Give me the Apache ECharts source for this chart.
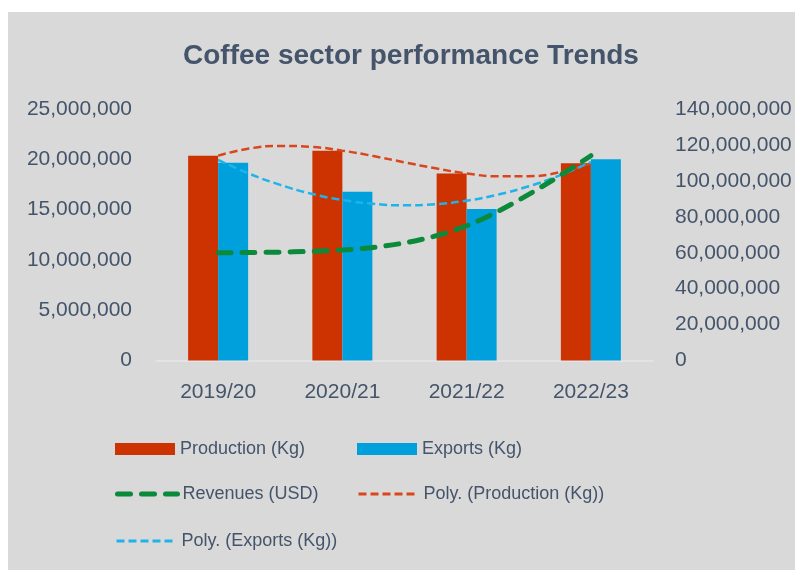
<!DOCTYPE html>
<html>
<head>
<meta charset="utf-8">
<script src="https://cdn.jsdelivr.net/npm/echarts@6/dist/echarts.min.js"></script>
<style>
  html, body { margin: 0; padding: 0; background: #ffffff; }
  #chart { width: 795px; height: 570px; }
</style>
</head>
<body>
<div id="chart"></div>
<script>
// ---- data ----
const categories = ['2019/20', '2020/21', '2021/22', '2022/23'];
const production = [20360000, 20860000, 18600000, 19600000];   // Kg (left axis)
const exportsKg  = [19660000, 16780000, 15060000, 20000000];   // Kg (left axis)
const revenues   = [60000000, 61500000, 75000000, 114000000];  // USD (right axis)

// trend lines at quarter-category positions
const trendX     = [1, 1.25, 1.5, 1.75, 2, 2.25, 2.5, 2.75, 3, 3.25, 3.5, 3.75, 4];
const prodTrend  = [20360000, 21070000, 21330000, 21230000, 20860000, 20320000, 19700000, 19100000, 18600000, 18310000, 18320000, 18720000, 19600000];
const expTrend   = [19940000, 18570000, 17460000, 16580000, 15960000, 15570000, 15430000, 15540000, 15890000, 16480000, 17320000, 18400000, 19730000];

const leftTicks  = { min: 0, max: 25000000, interval: 5000000 };
const rightTicks = { min: 0, max: 140000000, interval: 20000000 };

const TEXT = '#44546a';
const FONT = "'Liberation Sans', Arial, Helvetica, sans-serif";
const C_PROD = '#cc3300', C_EXP = '#00a0dc', C_REV = '#0b8a3b', C_PT = '#d9461c', C_ET = '#1eb3ea';

const fmt = v => Math.round(v).toString().replace(/\B(?=(\d{3})+(?!\d))/g, ',');
const pairs = (xs, ys) => xs.map((x, i) => [x, ys[i]]);

function legendAt(name, left, top, lineStyle) {
  const item = { name: name };
  if (lineStyle) {
    item.itemStyle = { opacity: 0 };
    item.lineStyle = lineStyle;
  } else {
    item.icon = 'rect';
  }
  return {
    data: [item], left: left, top: top, padding: 0,
    itemWidth: 60, itemHeight: 12, itemGap: 0,
    selectedMode: false,
    textStyle: { color: TEXT, fontSize: 18, fontFamily: FONT, padding: [0, 0, 0, 0] }
  };
}

const chart = echarts.init(document.getElementById('chart'), null, { renderer: 'canvas' });
chart.setOption({
  backgroundColor: '#ffffff',
  animation: false,
  graphic: [{
    type: 'rect', left: 8, top: 12, z: -10,
    shape: { x: 0, y: 0, width: 787, height: 558 },
    style: { fill: '#d9d9d9' }
  }],
  title: {
    text: 'Coffee sector performance Trends',
    left: 183, top: 42, padding: 0,
    textStyle: { color: TEXT, fontSize: 28, fontWeight: 'bold', fontFamily: FONT }
  },
  legend: [
    legendAt('Production (Kg)', 115, 440, null),
    legendAt('Exports (Kg)', 357, 440, null),
    legendAt('Revenues (USD)', 115, 485, { color: C_REV, width: 5, type: [13, 11], cap: 'round', opacity: 1 }),
    legendAt('Poly. (Production (Kg))', 357, 485, { color: C_PT, width: 3, type: [8, 4], opacity: 1 }),
    legendAt('Poly. (Exports (Kg))', 115, 532, { color: C_ET, width: 3, type: [8, 4], opacity: 1 })
  ],
  grid: { left: 156, right: 142, top: 109, bottom: 209.5, containLabel: false },
  xAxis: [{
    type: 'category', data: categories, boundaryGap: true,
    axisLine: { show: true, lineStyle: { color: '#e6e6ea', width: 1.5 } },
    axisTick: { show: false },
    axisLabel: { color: TEXT, fontSize: 21, fontFamily: FONT, margin: 21 },
    splitLine: { show: false }
  }, {
    type: 'value', min: 0.5, max: 4.5, show: false
  }],
  yAxis: [{
    type: 'value', position: 'left',
    min: leftTicks.min, max: leftTicks.max, interval: leftTicks.interval,
    axisLine: { show: false }, axisTick: { show: false }, splitLine: { show: false },
    axisLabel: { color: TEXT, fontSize: 21, fontFamily: FONT, margin: 24, formatter: fmt }
  }, {
    type: 'value', position: 'right',
    min: rightTicks.min, max: rightTicks.max, interval: rightTicks.interval,
    axisLine: { show: false }, axisTick: { show: false }, splitLine: { show: false },
    axisLabel: { color: TEXT, fontSize: 21, fontFamily: FONT, margin: 22, formatter: fmt }
  }],
  series: [{
    name: 'Production (Kg)', type: 'bar', data: production,
    xAxisIndex: 0, yAxisIndex: 0, barWidth: 30, barGap: '0%',
    itemStyle: { color: C_PROD }
  }, {
    name: 'Exports (Kg)', type: 'bar', data: exportsKg,
    xAxisIndex: 0, yAxisIndex: 0, barWidth: 30, barGap: '0%',
    itemStyle: { color: C_EXP }
  }, {
    name: 'Poly. (Production (Kg))', type: 'line', data: pairs(trendX, prodTrend),
    xAxisIndex: 1, yAxisIndex: 0, smooth: true, symbol: 'none', z: 4,
    lineStyle: { color: C_PT, width: 2.5, type: [8, 4] },
    itemStyle: { color: C_PT }
  }, {
    name: 'Poly. (Exports (Kg))', type: 'line', data: pairs(trendX, expTrend),
    xAxisIndex: 1, yAxisIndex: 0, smooth: true, symbol: 'none', z: 4,
    lineStyle: { color: C_ET, width: 2.5, type: [8, 4] },
    itemStyle: { color: C_ET }
  }, {
    name: 'Revenues (USD)', type: 'line', data: revenues,
    xAxisIndex: 0, yAxisIndex: 1, smooth: 0.35, symbol: 'none', z: 5,
    lineStyle: { color: C_REV, width: 5, type: [13, 11], cap: 'round' },
    itemStyle: { color: C_REV }
  }]
});
</script>
</body>
</html>
